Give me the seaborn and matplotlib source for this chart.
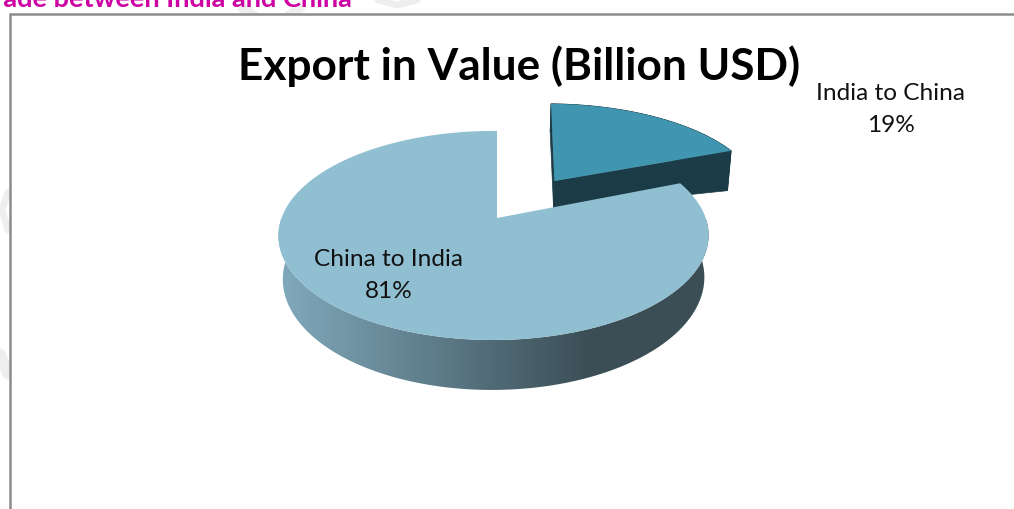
import numpy as np
import matplotlib
matplotlib.use("Agg")
import matplotlib.pyplot as plt
from matplotlib.collections import PolyCollection
from matplotlib.patches import Polygon, Rectangle
from matplotlib.colors import LinearSegmentedColormap
import seaborn as sns

# Export shares, clockwise from twelve o'clock
categories = ["India to China", "China to India"]
shares = [19, 81]
chart_title = "Export in Value (Billion USD)"
slide_heading = "Trade between India and China"

# Colours of the top faces, cut faces and shaded rim
top_colors = sns.color_palette(["#4096b0", "#90bfd2"])
cut_color = "#1b3c47"
rim_light, rim_dark = "#7fa8ba", "#3b4e56"
rim_cmap = LinearSegmentedColormap.from_list("rim", sns.blend_palette([rim_light, rim_dark], 64))

sns.set_theme(style="white")
plt.rcParams["font.family"] = ["Lato", "DejaVu Sans"]

# Perspective constants of the pie, in figure pixels
CX, CY = 497.0, 218.0
RX, RY = 212.0, 101.6
K_V, K_U = 0.167, 0.016
DEPTH = 41.6
BASE_SHRINK = 0.98
EXPLODE = (0.29, 0.39)


def project(u, v):
    w = 1 + K_V * v + K_U * u
    return CX + RX * u / w, CY - RY * v / w, w


def slice_outline(start, end, offset=(0.0, 0.0), n=160):
    angles = np.radians(np.linspace(start, end, n))
    return np.sin(angles) + offset[0], np.cos(angles) + offset[1]


fig = plt.figure(figsize=(10.14, 5.09), dpi=100)
ax = fig.add_axes([0, 0, 1, 1])
ax.axis("off")

# Faint slide watermark, masked by the chart's white area
wm = "#eeeeee"
ax.plot([240, 258], [6, 18], color=wm, lw=7, zorder=1, solid_capstyle="butt")
ax.plot([303, 285], [6, 18], color=wm, lw=7, zorder=1, solid_capstyle="butt")
ax.plot([378, 397, 417], [0, 5, 0], color=wm, lw=5, zorder=1)
ax.plot([8, 2, 8], [192, 210, 230], color=wm, lw=5, zorder=1)
ax.plot([0, 8], [354, 374], color=wm, lw=8, zorder=1)
ax.add_patch(Rectangle((10, 14), 1004, 495, facecolor="white", edgecolor="none", zorder=1.5))

# Chart frame and the slide heading cut off by the top edge
ax.plot([10, 10, 1014], [509, 14, 14], color="#8c8c8c", lw=1.8, zorder=2,
        solid_joinstyle="miter")
ax.text(352, 7, slide_heading, color="#cc00a3", fontsize=19.5, fontweight="bold",
        ha="right", va="baseline", zorder=3)

# Angular span of the smaller slice from the data
small_sweep = 360 * shares[0] / sum(shares)

# Pulled-out slice: walls first, then its top face
u, v = slice_outline(0, small_sweep, EXPLODE)
u = np.r_[EXPLODE[0], u]
v = np.r_[EXPLODE[1], v]
x, y, _ = project(u, v)
apex_x, apex_y = x[0], y[0]
x = apex_x + (x - apex_x) * 1.04 + 0.06 * (apex_y - y)
drop = 24 + 13 * u
walls = []
for i in range(len(x)):
    j = (i + 1) % len(x)
    walls.append([(x[i], y[i]), (x[j], y[j]),
                  (x[j] - 3 * u[j], y[j] + drop[j]), (x[i] - 3 * u[i], y[i] + drop[i])])
ax.add_collection(PolyCollection(walls, facecolors=cut_color, edgecolors=cut_color,
                                 linewidths=0.5, zorder=4))
ax.fill(x, y, facecolor=top_colors[0], edgecolor="none", zorder=5)

# Main slice: rim gradient clipped to the wall outline, then its top face
u, v = slice_outline(small_sweep, 360, n=360)
x, y, w = project(u, v)
front = v < 0.02
fx, fy, fw = x[front], y[front], w[front]
bx = CX + (fx - CX) * BASE_SHRINK
by = fy + DEPTH / fw
wall = Polygon(np.c_[np.r_[fx, bx[::-1]], np.r_[fy, by[::-1]]], closed=True,
               facecolor="none", edgecolor="none", transform=ax.transData)
ax.add_patch(wall)
ramp = np.clip((np.arange(270, 730) - 285) / (590 - 285), 0, 1)[None, :]
img = ax.imshow(ramp, cmap=rim_cmap, vmin=0, vmax=1, extent=(270, 730, 400, 220),
                aspect="auto", interpolation="bilinear", zorder=6)
img.set_clip_path(wall)
ax.fill(np.r_[CX, x], np.r_[CY, y], facecolor=top_colors[1], edgecolor="none", zorder=7)

ax.set_xlim(0, 1014)
ax.set_ylim(509, 0)

# Title and slice labels
ax.text(519, 66, chart_title, ha="center", va="center", fontsize=31.8, fontweight="bold",
        color="black", zorder=8)
label_font = dict(ha="center", va="center", fontsize=17.6, color="#111111", zorder=8)
ax.text(891, 93, categories[0], **label_font)
ax.text(891, 125, f"{shares[0]}%", **label_font)
ax.text(389, 259, categories[1], **label_font)
ax.text(389, 291, f"{shares[1]}%", **label_font)

fig.savefig("out.png", dpi=100, facecolor="white")
